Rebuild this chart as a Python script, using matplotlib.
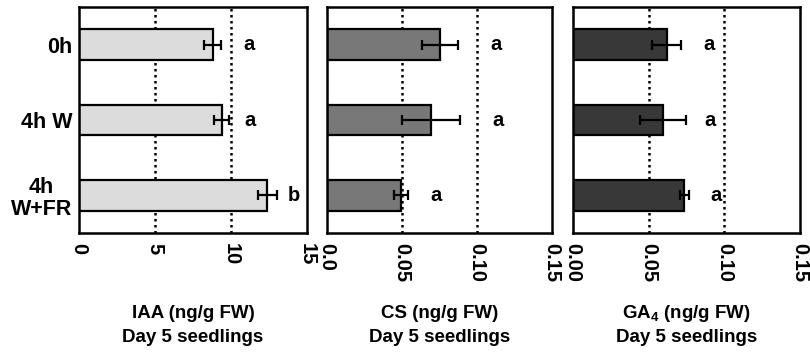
import matplotlib
matplotlib.use("Agg")
import matplotlib.pyplot as plt

# --- データ ---
groups = ["0h", "4h W", "4h\nW+FR"]

iaa = [8.8, 9.4, 12.4]
iaa_err = [0.55, 0.5, 0.6]
iaa_sig = ["a", "a", "b"]
iaa_sig_x = [10.8, 10.9, 13.75]

cs = [0.0753, 0.0693, 0.0493]
cs_err = [0.0123, 0.0195, 0.0047]
cs_sig = ["a", "a", "a"]
cs_sig_x = [0.109, 0.110, 0.069]

ga4 = [0.062, 0.0595, 0.0734]
ga4_err = [0.0096, 0.0152, 0.003]
ga4_sig = ["a", "a", "a"]
ga4_sig_x = [0.086, 0.0866, 0.0905]

iaa_ticks = [0, 5, 10, 15]
iaa_ticklabels = ["0", "5", "10", "15"]
cs_ticks = [0, 0.05, 0.10, 0.15]
cs_ticklabels = ["0.0", "0.05", "0.10", "0.15"]
ga4_ticks = [0, 0.05, 0.10, 0.15]
ga4_ticklabels = ["0.00", "0.05", "0.10", "0.15"]

title_lines = ["IAA (ng/g FW)", "CS (ng/g FW)", "GA$_{\\mathrm{4}}$ (ng/g FW)"]
sub_line = "Day 5 seedlings"

# --- 設定 ---
plt.rcParams["font.family"] = ["Liberation Sans", "DejaVu Sans"]
plt.rcParams["font.weight"] = "bold"
plt.rcParams["mathtext.fontset"] = "custom"
plt.rcParams["mathtext.rm"] = "Liberation Sans:bold"
plt.rcParams["mathtext.it"] = "Liberation Sans:bold"
plt.rcParams["mathtext.bf"] = "Liberation Sans:bold"

fig = plt.figure(figsize=(8.1, 3.54), dpi=100)
lefts = [0.0975, 0.4037, 0.7074]
widths = [0.2815, 0.2778, 0.2802]
bottom, height = 0.342, 0.638

panels = [
    (iaa, iaa_err, iaa_sig, iaa_sig_x, iaa_ticks, iaa_ticklabels, 15, "#dcdcdc"),
    (cs, cs_err, cs_sig, cs_sig_x, cs_ticks, cs_ticklabels, 0.15, "#787878"),
    (ga4, ga4_err, ga4_sig, ga4_sig_x, ga4_ticks, ga4_ticklabels, 0.15, "#383838"),
]

ypos = list(range(len(groups)))

for i, (vals, errs, sig, sig_x, ticks, tlabels, xmax, color) in enumerate(panels):
    ax = fig.add_axes([lefts[i], bottom, widths[i], height])
    ax.barh(ypos, vals, height=0.41, color=color, edgecolor="black",
            linewidth=1.6, zorder=2)
    ax.errorbar(vals, ypos, xerr=errs, fmt="none", ecolor="black",
                elinewidth=1.6, capsize=3.5, capthick=1.6, zorder=3)
    for y, s, sx in zip(ypos, sig, sig_x):
        ax.text(sx, y, s, fontsize=14.5, fontweight="bold", ha="left", va="center")

    ax.set_xlim(0, xmax)
    ax.set_ylim(2.5, -0.5)
    ax.set_xticks(ticks)
    ax.set_xticklabels(tlabels, rotation=-90, ha="center", va="top",
                       fontsize=14.5, fontweight="bold")
    for t in ticks[1:-1]:
        ax.axvline(t, color="black", linestyle=(0, (1, 1.4)), linewidth=1.8, zorder=1)
    ax.tick_params(axis="x", length=0, pad=7)
    if i == 0:
        ax.set_yticks(ypos)
        ax.set_yticklabels(groups, fontsize=15.5, fontweight="bold",
                           multialignment="center", linespacing=1.1)
        ax.tick_params(axis="y", length=0, pad=5)
    else:
        ax.set_yticks([])
    for sp in ax.spines.values():
        sp.set_linewidth(1.8)

    # 軸ラベル（2行、ベースライン揃え）
    cx = lefts[i] + widths[i] / 2
    fig.text(cx, 1 - 318 / 354, title_lines[i], fontsize=13.5, fontweight="bold",
             ha="center", va="baseline")
    fig.text(cx, 1 - 342 / 354, sub_line, fontsize=13.5, fontweight="bold",
             ha="center", va="baseline")

fig.savefig("out.png", dpi=100)
